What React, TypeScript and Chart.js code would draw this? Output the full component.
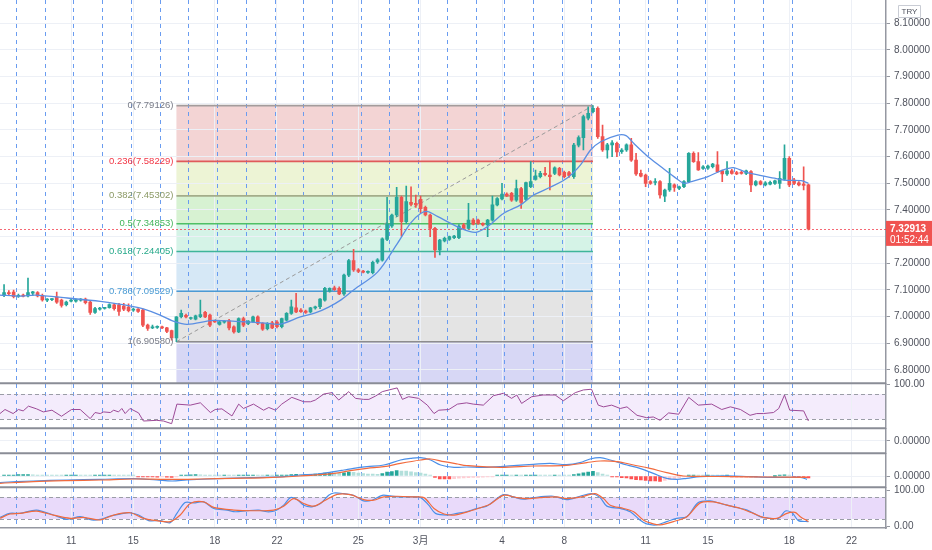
import { useEffect, useRef } from "react";
import { Chart, registerables } from "chart.js";

Chart.register(...registerables);

// ---------- price candles (4h bars, index 0..168) ----------
const opens = [
  7.080, 7.090, 7.092, 7.076, 7.080, 7.078, 7.088, 7.090, 7.080, 7.062,
  7.064, 7.073, 7.062, 7.045, 7.058, 7.058, 7.062, 7.066, 7.055, 7.016,
  7.028, 7.031, 7.034, 7.044, 7.044, 7.040, 7.036, 7.024, 7.028, 7.025,
  6.968, 6.958, 6.960, 6.962, 6.958, 6.948, 6.920, 7.000, 7.005, 6.993,
  6.991, 7.000, 7.016, 7.006, 6.983, 6.971, 6.979, 6.984, 6.962, 6.943,
  6.993, 6.975, 6.981, 6.999, 6.975, 6.955, 6.977, 6.980, 6.962, 6.987,
  7.012, 7.033, 7.025, 7.021, 7.018, 7.033, 7.037, 7.062, 7.096, 7.108,
  7.106, 7.085, 7.156, 7.210, 7.176, 7.170, 7.166, 7.165, 7.205, 7.212,
  7.290, 7.340, 7.381, 7.447, 7.356, 7.429, 7.425, 7.440, 7.410, 7.381,
  7.331, 7.250, 7.284, 7.290, 7.296, 7.296, 7.344, 7.331, 7.362, 7.362,
  7.350, 7.344, 7.362, 7.419, 7.441, 7.460, 7.462, 7.437, 7.480, 7.440,
  7.487, 7.515, 7.525, 7.537, 7.531, 7.537, 7.556, 7.541, 7.540, 7.525,
  7.643, 7.671, 7.744, 7.769, 7.781, 7.675, 7.625, 7.644, 7.650, 7.619,
  7.625, 7.644, 7.587, 7.537, 7.531, 7.506, 7.503, 7.506, 7.452, 7.475,
  7.494, 7.481, 7.487, 7.506, 7.612, 7.581, 7.556, 7.557, 7.562, 7.569,
  7.547, 7.535, 7.547, 7.540, 7.541, 7.537, 7.544, 7.494, 7.506, 7.494,
  7.497, 7.500, 7.500, 7.515, 7.594, 7.512, 7.502, 7.497, 7.494,
];
const highs = [
  7.120, 7.098, 7.100, 7.085, 7.085, 7.145, 7.095, 7.094, 7.085, 7.068,
  7.068, 7.092, 7.066, 7.058, 7.065, 7.066, 7.068, 7.070, 7.058, 7.035,
  7.035, 7.035, 7.048, 7.050, 7.050, 7.050, 7.048, 7.032, 7.030, 7.028,
  6.972, 6.968, 6.966, 6.965, 6.960, 6.950, 7.000, 7.025, 7.010, 6.998,
  7.006, 7.062, 7.020, 7.010, 6.986, 6.985, 6.985, 6.990, 6.966, 6.996,
  6.998, 6.985, 7.002, 7.003, 6.978, 6.978, 6.982, 6.985, 6.995, 7.015,
  7.062, 7.087, 7.030, 7.025, 7.035, 7.040, 7.068, 7.110, 7.108, 7.115,
  7.112, 7.160, 7.215, 7.252, 7.180, 7.174, 7.172, 7.208, 7.218, 7.296,
  7.447, 7.385, 7.485, 7.452, 7.490, 7.487, 7.456, 7.452, 7.415, 7.385,
  7.335, 7.290, 7.298, 7.302, 7.305, 7.345, 7.350, 7.425, 7.368, 7.366,
  7.352, 7.365, 7.452, 7.446, 7.500, 7.464, 7.466, 7.512, 7.485, 7.505,
  7.581, 7.550, 7.545, 7.560, 7.583, 7.562, 7.560, 7.546, 7.545, 7.650,
  7.678, 7.756, 7.787, 7.791, 7.787, 7.718, 7.650, 7.660, 7.655, 7.630,
  7.648, 7.669, 7.612, 7.550, 7.535, 7.510, 7.518, 7.510, 7.478, 7.556,
  7.498, 7.490, 7.510, 7.615, 7.618, 7.615, 7.566, 7.568, 7.575, 7.619,
  7.550, 7.581, 7.552, 7.545, 7.545, 7.550, 7.548, 7.510, 7.510, 7.506,
  7.508, 7.512, 7.544, 7.644, 7.600, 7.519, 7.506, 7.562, 7.497,
];
const lows = [
  7.075, 7.082, 7.070, 7.072, 7.074, 7.074, 7.080, 7.074, 7.058, 7.056,
  7.060, 7.050, 7.036, 7.040, 7.055, 7.054, 7.058, 7.048, 7.008, 7.012,
  7.024, 7.028, 7.032, 7.024, 7.005, 7.022, 7.018, 7.020, 7.016, 6.962,
  6.948, 6.955, 6.956, 6.955, 6.940, 6.912, 6.906, 6.995, 6.995, 6.990,
  6.988, 6.996, 6.996, 6.962, 6.978, 6.968, 6.976, 6.950, 6.938, 6.940,
  6.962, 6.970, 6.978, 6.970, 6.948, 6.950, 6.955, 6.958, 6.958, 6.984,
  7.008, 7.015, 7.016, 7.012, 7.014, 7.028, 7.030, 7.058, 7.092, 7.098,
  7.082, 7.080, 7.150, 7.170, 7.165, 7.164, 7.162, 7.160, 7.200, 7.208,
  7.285, 7.335, 7.375, 7.302, 7.350, 7.415, 7.410, 7.390, 7.378, 7.300,
  7.222, 7.231, 7.280, 7.286, 7.292, 7.292, 7.328, 7.328, 7.344, 7.346,
  7.340, 7.300, 7.358, 7.415, 7.438, 7.450, 7.432, 7.432, 7.406, 7.436,
  7.484, 7.512, 7.520, 7.528, 7.475, 7.532, 7.528, 7.520, 7.522, 7.518,
  7.636, 7.625, 7.738, 7.764, 7.668, 7.620, 7.594, 7.600, 7.600, 7.612,
  7.620, 7.582, 7.530, 7.524, 7.487, 7.496, 7.494, 7.444, 7.431, 7.470,
  7.470, 7.476, 7.484, 7.502, 7.578, 7.548, 7.552, 7.552, 7.558, 7.540,
  7.506, 7.530, 7.534, 7.532, 7.534, 7.532, 7.469, 7.490, 7.494, 7.490,
  7.494, 7.496, 7.481, 7.512, 7.487, 7.495, 7.490, 7.475, 7.325,
];
const closes = [
  7.090, 7.086, 7.075, 7.080, 7.077, 7.090, 7.093, 7.078, 7.063, 7.066,
  7.066, 7.054, 7.042, 7.055, 7.062, 7.064, 7.066, 7.052, 7.016, 7.030,
  7.032, 7.034, 7.045, 7.030, 7.020, 7.028, 7.022, 7.028, 7.020, 6.968,
  6.956, 6.962, 6.963, 6.958, 6.945, 6.920, 6.999, 7.012, 6.999, 6.996,
  7.003, 7.008, 6.999, 6.968, 6.980, 6.981, 6.982, 6.958, 6.943, 6.993,
  6.968, 6.983, 6.999, 6.975, 6.953, 6.975, 6.958, 6.962, 6.993, 7.012,
  7.037, 7.018, 7.019, 7.016, 7.033, 7.037, 7.066, 7.106, 7.106, 7.101,
  7.085, 7.156, 7.210, 7.175, 7.170, 7.167, 7.170, 7.204, 7.213, 7.292,
  7.347, 7.381, 7.447, 7.356, 7.431, 7.421, 7.419, 7.405, 7.381, 7.331,
  7.250, 7.287, 7.294, 7.300, 7.302, 7.340, 7.331, 7.362, 7.347, 7.350,
  7.344, 7.362, 7.419, 7.443, 7.460, 7.453, 7.437, 7.480, 7.428, 7.503,
  7.506, 7.528, 7.537, 7.532, 7.525, 7.558, 7.531, 7.525, 7.530, 7.643,
  7.671, 7.750, 7.762, 7.781, 7.675, 7.625, 7.644, 7.652, 7.618, 7.625,
  7.644, 7.587, 7.535, 7.527, 7.500, 7.500, 7.506, 7.456, 7.475, 7.500,
  7.485, 7.487, 7.506, 7.612, 7.581, 7.550, 7.562, 7.565, 7.572, 7.544,
  7.535, 7.547, 7.537, 7.535, 7.537, 7.547, 7.494, 7.506, 7.497, 7.502,
  7.504, 7.509, 7.519, 7.594, 7.494, 7.500, 7.494, 7.492, 7.32913,
];

// ---------- moving average (read points: bar position, price) ----------
const maX = [-0.85, 3.3, 6.5, 13.2, 20.1, 27.0, 29.1, 32.6, 35.8, 38.3, 43.7, 48.3, 54.6, 57.7, 61.9, 65.0, 67.8, 70.3, 73.0, 78.0, 82.2, 84.9, 87.0, 88.5, 90.5, 95.4, 98.5, 101.0, 104.3, 107.9, 110.6, 114.2, 117.7, 120.4, 122.5, 124.6, 128.2, 129.9, 131.5, 134.5, 137.2, 139.9, 142.0, 143.5, 147.0, 149.7, 152.3, 154.6, 156.7, 160.9, 162.9, 166.5, 168.0];
const maY = [7.081, 7.077, 7.081, 7.070, 7.057, 7.038, 7.029, 7.006, 6.980, 6.971, 6.986, 6.982, 6.976, 6.972, 6.999, 7.014, 7.036, 7.062, 7.100, 7.167, 7.276, 7.351, 7.387, 7.394, 7.376, 7.331, 7.316, 7.338, 7.387, 7.419, 7.456, 7.486, 7.521, 7.569, 7.625, 7.656, 7.681, 7.679, 7.650, 7.600, 7.562, 7.525, 7.500, 7.506, 7.525, 7.547, 7.559, 7.544, 7.534, 7.519, 7.512, 7.510, 7.500];

// ---------- RSI ----------
const rsiX = [-0.85, 0.2, 1.9, 3.0, 4.0, 5.1, 6.8, 8.2, 10.0, 12.0, 14.1, 15.9, 18.0, 19.0, 20.1, 20.8, 22.2, 22.9, 23.9, 24.6, 25.3, 26.3, 28.1, 29.1, 31.9, 33.3, 35.0, 36.1, 38.9, 41.0, 43.1, 44.1, 45.5, 47.6, 49.0, 50.0, 52.1, 54.2, 55.3, 56.7, 58.0, 60.1, 62.6, 64.0, 65.0, 66.8, 68.5, 69.9, 72.0, 73.4, 75.1, 76.2, 77.6, 79.0, 80.4, 82.1, 83.2, 84.5, 86.6, 88.4, 89.8, 90.8, 92.9, 94.7, 96.6, 98.0, 100.1, 102.2, 104.3, 106.0, 107.1, 108.1, 110.2, 112.6, 115.1, 116.8, 119.3, 121.0, 122.7, 124.1, 125.2, 126.9, 128.7, 130.1, 132.2, 134.2, 135.6, 137.0, 138.8, 140.9, 143.0, 145.0, 147.8, 149.9, 151.7, 153.8, 155.8, 157.2, 158.6, 160.7, 161.8, 163.0, 164.1, 167.0, 168.0];
const rsiY = [39.1, 45.5, 39.1, 45.5, 43.3, 50.8, 46.5, 41.7, 44.4, 34.8, 45.5, 45.5, 31.1, 40.7, 39.1, 41.7, 40.7, 44.4, 41.7, 47.1, 39.1, 47.1, 40.1, 27.3, 28.4, 27.3, 23.1, 54.0, 52.4, 56.1, 40.7, 45.5, 46.5, 35.3, 54.0, 47.1, 54.0, 44.4, 48.7, 44.4, 54.0, 64.7, 57.7, 57.7, 60.4, 70.0, 72.1, 60.4, 73.7, 63.1, 61.5, 61.5, 66.8, 73.7, 76.4, 79.6, 61.5, 65.7, 63.1, 52.4, 39.1, 44.4, 45.5, 54.0, 56.0, 54.0, 52.4, 67.3, 71.1, 63.1, 68.4, 55.1, 65.7, 68.4, 68.4, 59.3, 72.1, 76.4, 77.5, 52.4, 49.7, 52.4, 47.1, 49.7, 36.3, 32.6, 33.7, 28.4, 40.1, 38.0, 64.7, 52.4, 54.0, 45.5, 49.7, 45.5, 36.3, 39.1, 39.1, 40.7, 47.1, 68.4, 44.4, 43.3, 27.3];
const rsiBand = [70, 30];

// ---------- MACD ----------
const macdX = [-0.85, 6.1, 13.1, 20.1, 27.0, 31.9, 35.1, 38.2, 44.5, 51.4, 58.4, 61.9, 65.4, 68.9, 71.0, 73.0, 75.8, 79.3, 82.8, 84.9, 87.0, 89.1, 91.2, 94.0, 96.6, 100.1, 103.6, 107.1, 110.5, 114.0, 117.5, 120.3, 122.4, 124.5, 126.6, 130.1, 132.8, 135.6, 138.4, 140.5, 142.6, 145.4, 152.4, 159.3, 163.5, 166.3, 167.7];
const macdY = [-0.0130, -0.0100, -0.0080, -0.0067, -0.0053, -0.0080, -0.0100, -0.0080, -0.0053, -0.0033, -0.0013, 0.0020, 0.0040, 0.0087, 0.0120, 0.0153, 0.0187, 0.0220, 0.0320, 0.0353, 0.0367, 0.0320, 0.0220, 0.0173, 0.0180, 0.0173, 0.0187, 0.0213, 0.0233, 0.0253, 0.0227, 0.0267, 0.0340, 0.0367, 0.0320, 0.0220, 0.0153, 0.0053, -0.0047, -0.0067, -0.0047, -0.0013, 0.0000, -0.0027, -0.0027, -0.0027, -0.0067];
const signalX = [-0.85, 6.1, 13.1, 20.1, 27.0, 34.0, 41.0, 48.0, 54.9, 61.9, 68.9, 72.3, 75.8, 79.3, 82.8, 87.0, 89.1, 91.9, 94.7, 96.6, 103.6, 110.5, 117.5, 121.7, 124.5, 128.0, 131.5, 134.9, 138.4, 141.9, 145.4, 152.4, 159.3, 167.7];
const signalY = [-0.0147, -0.0113, -0.0093, -0.0080, -0.0060, -0.0067, -0.0060, -0.0047, -0.0033, 0.0000, 0.0053, 0.0107, 0.0153, 0.0187, 0.0253, 0.0320, 0.0340, 0.0287, 0.0240, 0.0210, 0.0173, 0.0200, 0.0213, 0.0267, 0.0300, 0.0287, 0.0220, 0.0153, 0.0067, 0.0000, -0.0007, -0.0013, -0.0020, -0.0027];
const macdHist = [
  0.0020, 0.0020, 0.0020, 0.0030, 0.0030, 0.0030, 0.0024, 0.0020, 0.0016, 0.0012,
  0.0010, 0.0008, 0.0006, 0.0006, 0.0010, 0.0012, 0.0010, 0.0008, 0.0004, 0.0006,
  0.0008, 0.0010, 0.0012, 0.0010, 0.0008, 0.0006, 0.0004, 0.0002, -0.0006, -0.0016,
  -0.0020, -0.0020, -0.0022, -0.0020, -0.0022, -0.0026, -0.0010, 0.0006, 0.0016, 0.0024,
  0.0026, 0.0024, 0.0020, 0.0016, 0.0012, 0.0010, 0.0012, 0.0008, 0.0006, 0.0010,
  0.0010, 0.0012, 0.0014, 0.0010, 0.0006, 0.0008, 0.0006, 0.0006, 0.0012, 0.0020,
  0.0030, 0.0032, 0.0030, 0.0030, 0.0032, 0.0036, 0.0046, 0.0060, 0.0064, 0.0060,
  0.0056, 0.0064, 0.0076, 0.0072, 0.0060, 0.0050, 0.0040, 0.0036, 0.0032, 0.0050,
  0.0076, 0.0090, 0.0110, 0.0100, 0.0096, 0.0084, 0.0070, 0.0056, 0.0036, 0.0004,
  -0.0030, -0.0056, -0.0060, -0.0060, -0.0052, -0.0044, -0.0040, -0.0032, -0.0028, -0.0026,
  -0.0024, -0.0020, -0.0008, 0.0004, 0.0012, 0.0014, 0.0012, 0.0016, 0.0012, 0.0018,
  0.0020, 0.0020, 0.0018, 0.0016, 0.0014, 0.0016, 0.0014, 0.0010, 0.0008, 0.0030,
  0.0044, 0.0064, 0.0080, 0.0092, 0.0070, 0.0040, 0.0020, -0.0006, -0.0020, -0.0032,
  -0.0040, -0.0056, -0.0072, -0.0080, -0.0090, -0.0096, -0.0100, -0.0106, -0.0090, -0.0072,
  -0.0052, -0.0032, -0.0010, 0.0012, 0.0016, 0.0014, 0.0012, 0.0012, 0.0010, 0.0006,
  0.0004, 0.0004, -0.0004, -0.0006, -0.0006, -0.0006, -0.0010, -0.0010, -0.0008, -0.0006,
  -0.0004, 0.0000, 0.0008, 0.0024, 0.0010, -0.0010, -0.0016, -0.0020, -0.0040,
];

// ---------- Stochastic ----------
const stochKX = [-0.85, 1.2, 3.3, 6.8, 10.3, 13.1, 15.9, 18.3, 20.1, 22.2, 24.2, 26.3, 28.1, 30.2, 32.6, 34.7, 36.1, 37.8, 39.6, 41.7, 43.8, 46.6, 48.3, 50.7, 53.2, 54.9, 56.7, 58.4, 59.8, 61.2, 62.6, 64.3, 66.1, 67.8, 68.9, 71.0, 73.0, 75.1, 76.9, 79.0, 80.7, 82.8, 85.2, 87.0, 88.7, 90.1, 92.6, 94.6, 96.6, 98.7, 100.8, 104.3, 106.4, 108.4, 110.5, 114.7, 117.5, 120.3, 122.7, 124.5, 125.9, 128.7, 130.8, 132.8, 134.2, 136.3, 138.4, 140.5, 142.6, 145.0, 147.5, 149.6, 152.4, 155.2, 157.9, 160.0, 161.8, 163.2, 164.6, 165.9, 168.0];
const stochKY = [24.6, 35.5, 35.5, 44.6, 30.9, 19.1, 26.4, 17.3, 19.1, 28.2, 33.7, 37.3, 30.9, 15.5, 15.5, 10.0, 35.5, 65.5, 64.6, 67.3, 49.1, 44.6, 40.0, 42.8, 44.6, 40.0, 42.8, 58.2, 79.1, 73.7, 58.2, 53.7, 62.8, 85.5, 91.9, 90.0, 85.5, 70.0, 71.9, 85.5, 83.7, 81.0, 81.0, 79.1, 58.2, 35.5, 30.9, 35.5, 40.0, 49.1, 55.5, 87.3, 81.0, 74.6, 79.1, 82.8, 73.7, 82.8, 90.0, 79.1, 55.5, 49.1, 40.0, 17.3, 6.4, 3.7, 12.8, 21.9, 26.4, 65.5, 70.0, 62.8, 53.7, 44.6, 26.4, 21.9, 21.9, 41.9, 37.3, 15.5, 12.8];
const stochDX = [-0.85, 1.2, 3.3, 6.8, 10.3, 13.8, 16.6, 20.1, 22.9, 26.3, 29.1, 31.9, 34.7, 36.8, 38.9, 41.7, 43.8, 48.0, 52.1, 56.3, 58.4, 60.5, 62.6, 64.7, 67.1, 69.6, 72.3, 75.1, 77.2, 79.3, 82.1, 85.6, 87.7, 89.8, 91.9, 94.0, 96.6, 99.4, 101.5, 104.3, 107.1, 109.1, 111.9, 115.4, 117.5, 120.6, 123.4, 125.2, 126.6, 129.4, 131.5, 133.5, 135.6, 137.0, 139.8, 142.6, 145.4, 148.2, 151.0, 153.8, 156.5, 158.6, 161.4, 163.5, 165.2, 166.3, 168.0];
const stochDY = [21.9, 33.7, 35.5, 41.9, 30.9, 21.9, 24.6, 17.3, 30.9, 37.3, 21.9, 15.5, 12.8, 30.9, 62.8, 67.3, 51.9, 44.6, 42.8, 44.6, 55.5, 76.4, 62.8, 55.5, 71.9, 88.2, 87.3, 73.7, 71.9, 81.0, 82.8, 81.0, 79.1, 49.1, 33.7, 30.9, 39.0, 50.9, 60.9, 85.5, 79.1, 76.4, 79.1, 81.0, 76.4, 81.0, 90.0, 76.4, 58.2, 49.1, 40.0, 17.3, 6.4, 3.7, 12.8, 26.4, 64.6, 67.3, 58.2, 49.1, 35.5, 24.6, 21.9, 35.5, 38.2, 26.4, 12.8];
const stochBand = [80, 20];

// ---------- axes ----------
const xTickPos = [14, 27, 44, 57, 74, 87, 104, 117, 134, 147, 164, 177];
const xTickLabels = ["11", "15", "18", "22", "25", "3月", "4", "8", "11", "15", "18", "22"];
const priceTicks = [6.8, 6.9, 7.0, 7.1, 7.2, 7.3, 7.4, 7.5, 7.6, 7.7, 7.8, 7.9, 8.0, 8.1];
const sessionDays = ["2/9", "2/10", "2/11", "2/12", "2/15", "2/16", "2/17", "2/18", "2/19", "2/22", "2/23", "2/24", "2/25", "2/26", "3/1", "3/2", "3/3", "3/4", "3/5", "3/8", "3/9", "3/10", "3/11", "3/12", "3/15", "3/16", "3/17", "3/18"];
const firstSessionBar = 3;
const barsPerSession = 6;

// ---------- Fibonacci retracement ----------
const fibLevels = ["0", "0.236", "0.382", "0.5", "0.618", "0.786", "1"];
const fibPrices = [7.79126, 7.58229, 7.45302, 7.34853, 7.24405, 7.09529, 6.9058];
const fibExtPrice = 6.35858;
const fibStartBar = 36;
const fibEndBar = 123;

const lastPrice = 7.32913;
const countdown = "01:52:44";
const currency = "TRY";

// ---------- styles ----------
const FONT = '"Liberation Sans", "Noto Sans CJK JP", sans-serif';
const TXT = "#50535e";
const UP = "#26a69a";
const DOWN = "#ef5350";
const fibLineColors = ["#a39c9c", "#e05a5a", "#a4ad8a", "#4fc065", "#3fb59a", "#4d9ad4", "#8d8d8d"];
const fibTextColors = ["#787b86", "#f23645", "#8c9a66", "#43b55a", "#26a98a", "#4a9bd3", "#787b86"];
const fibZoneColors = ["#f3d4d4", "#edf4d5", "#d7f2d2", "#d5f3e7", "#d6e8f6", "#e4e4e4", "#d7d7f5"];

const panelPlugin = {
  id: "tvPanels",
  beforeDraw(chart: any) {
    const { ctx, chartArea: ca, scales } = chart;
    const sx = scales.x, sy = scales.y;
    ctx.save();
    ctx.fillStyle = "#ffffff";
    ctx.fillRect(0, 0, chart.width, chart.height);
    ctx.save();
    ctx.beginPath();
    ctx.rect(ca.left, sy.top, ca.right - ca.left, sy.bottom - sy.top);
    ctx.clip();
    const xl = sx.getPixelForValue(fibStartBar);
    const xr = sx.getPixelForValue(fibEndBar);
    const bounds = [...fibPrices, fibExtPrice];
    for (let i = 0; i < fibZoneColors.length; i++) {
      const y1 = sy.getPixelForValue(bounds[i]);
      const y2 = sy.getPixelForValue(bounds[i + 1]);
      ctx.fillStyle = fibZoneColors[i];
      ctx.fillRect(xl, y1, xr - xl, y2 - y1);
    }
    ctx.restore();
    const band = (s: any, hi: number, lo: number, color: string) => {
      const a = s.getPixelForValue(hi), b = s.getPixelForValue(lo);
      ctx.fillStyle = color;
      ctx.fillRect(ca.left, a, ca.right - ca.left, b - a);
    };
    band(scales.yRsi, rsiBand[0], rsiBand[1], "#f4ecfc");
    band(scales.yStoch, stochBand[0], stochBand[1], "#e9dafa");
    ctx.restore();
  },
  beforeDatasetsDraw(chart: any) {
    const { ctx, chartArea: ca, scales } = chart;
    const sx = scales.x, sy = scales.y;
    ctx.save();
    // session breaks
    ctx.strokeStyle = "#6a9cf0";
    ctx.lineWidth = 1;
    ctx.setLineDash([4, 4]);
    ctx.beginPath();
    sessionDays.forEach((_, i) => {
      const px = Math.round(sx.getPixelForValue(firstSessionBar - 0.5 + i * barsPerSession)) + 0.5;
      ctx.moveTo(px, ca.top);
      ctx.lineTo(px, ca.bottom);
    });
    ctx.stroke();
    // band borders
    ctx.strokeStyle = "#9a9da6";
    ctx.setLineDash([4, 3]);
    ctx.beginPath();
    const hline = (s: any, v: number) => {
      const py = Math.round(s.getPixelForValue(v)) + 0.5;
      ctx.moveTo(ca.left, py);
      ctx.lineTo(ca.right, py);
    };
    hline(scales.yRsi, rsiBand[0]);
    hline(scales.yRsi, rsiBand[1]);
    hline(scales.yStoch, stochBand[0]);
    hline(scales.yStoch, stochBand[1]);
    ctx.stroke();
    // fib levels
    const xl = sx.getPixelForValue(fibStartBar);
    const xr = sx.getPixelForValue(fibEndBar);
    ctx.setLineDash([]);
    ctx.lineWidth = 1.6;
    fibPrices.forEach((p, i) => {
      const py = sy.getPixelForValue(p);
      ctx.strokeStyle = fibLineColors[i];
      ctx.beginPath();
      ctx.moveTo(xl, py);
      ctx.lineTo(xr, py);
      ctx.stroke();
    });
    // trend line
    ctx.strokeStyle = "#9a9a9a";
    ctx.lineWidth = 1;
    ctx.setLineDash([4, 3]);
    ctx.beginPath();
    ctx.moveTo(xl, sy.getPixelForValue(fibPrices[fibPrices.length - 1]));
    ctx.lineTo(xr, sy.getPixelForValue(fibPrices[0]));
    ctx.stroke();
    // last price line
    ctx.strokeStyle = "rgba(242,54,69,0.75)";
    ctx.setLineDash([2, 2]);
    ctx.beginPath();
    const lp = Math.round(sy.getPixelForValue(lastPrice)) + 0.5;
    ctx.moveTo(ca.left, lp);
    ctx.lineTo(ca.right, lp);
    ctx.stroke();
    // panel separators
    ctx.setLineDash([]);
    ctx.strokeStyle = "#8a8d96";
    ctx.lineWidth = 2;
    ctx.beginPath();
    [scales.y, scales.yRsi, scales.yEmpty, scales.yMacd].forEach((s: any) => {
      ctx.moveTo(ca.left, s.bottom);
      ctx.lineTo(ca.right, s.bottom);
    });
    ctx.stroke();
    ctx.restore();
  },
  afterDraw(chart: any) {
    const { ctx, chartArea: ca, scales } = chart;
    const sx = scales.x, sy = scales.y;
    ctx.save();
    // fib labels
    const xl = sx.getPixelForValue(fibStartBar);
    ctx.font = `9.5px ${FONT}`;
    ctx.textAlign = "right";
    ctx.textBaseline = "middle";
    fibPrices.forEach((p, i) => {
      ctx.fillStyle = fibTextColors[i];
      ctx.fillText(`${fibLevels[i]}(${p.toFixed(5)})`, xl - 3, sy.getPixelForValue(p));
    });
    // last price box
    const py = sy.getPixelForValue(lastPrice);
    ctx.fillStyle = "#f05350";
    ctx.fillRect(ca.right, py - 8, chart.width - ca.right, 25);
    ctx.fillStyle = "#ffffff";
    ctx.textAlign = "left";
    ctx.font = `bold 10px ${FONT}`;
    ctx.fillText(lastPrice.toFixed(5), ca.right + 4, py + 0.5);
    ctx.font = `10px ${FONT}`;
    ctx.fillText(countdown, ca.right + 4, py + 11.5);
    // currency box
    ctx.fillStyle = "#ffffff";
    ctx.strokeStyle = "#c9ccd4";
    ctx.lineWidth = 1;
    ctx.beginPath();
    ctx.rect(898.5, 5.5, 22, 12);
    ctx.fill();
    ctx.stroke();
    ctx.fillStyle = TXT;
    ctx.font = `8px ${FONT}`;
    ctx.textAlign = "center";
    ctx.fillText(currency, 909.5, 11.8);
    ctx.restore();
  },
};

const tickFont = { family: FONT, size: 10 };
const noPad = (s: any) => {
  s.paddingTop = 0;
  s.paddingBottom = 0;
  s.paddingLeft = 0;
  s.paddingRight = 0;
};
const yAxisBase = (weight: number, min: number, max: number) => ({
  type: "linear" as const,
  position: "right" as const,
  stack: "panels",
  stackWeight: weight,
  min,
  max,
  border: { color: "#9598a1", width: 1.5 },
  afterFit: (s: any) => {
    s.width = 46;
    noPad(s);
  },
});

export default function App() {
  const ref = useRef<HTMLCanvasElement | null>(null);

  useEffect(() => {
    if (!ref.current) return;
    const idx = opens.map((_, i) => i);
    const isUp = (i: number) => closes[i] >= opens[i];
    const histColor = (i: number) => {
      const v = macdHist[i];
      const prev = i > 0 ? macdHist[i - 1] : v;
      if (v >= 0) return v >= prev ? "#26a69a" : "#b2dfdb";
      return v <= prev ? "#ff5252" : "#ffcdd2";
    };
    const pts = (xs: number[], ys: number[]) => xs.map((x, i) => ({ x, y: ys[i] }));

    const chart = new Chart(ref.current, {
      type: "bar",
      data: {
        datasets: [
          {
            type: "line",
            data: pts(maX, maY),
            yAxisID: "y",
            borderColor: "#5b8fe3",
            borderWidth: 1.3,
            pointRadius: 0,
            tension: 0.3,
            order: 0,
          },
          {
            type: "line",
            data: pts(rsiX, rsiY),
            yAxisID: "yRsi",
            borderColor: "#9c4a97",
            borderWidth: 1,
            pointRadius: 0,
            tension: 0,
            order: 0,
          },
          {
            type: "line",
            data: pts(signalX, signalY),
            yAxisID: "yMacd",
            borderColor: "#f26a3d",
            borderWidth: 1.2,
            pointRadius: 0,
            tension: 0.35,
            order: 0,
          },
          {
            type: "line",
            data: pts(macdX, macdY),
            yAxisID: "yMacd",
            borderColor: "#4a8fe8",
            borderWidth: 1.2,
            pointRadius: 0,
            tension: 0.35,
            order: 0,
          },
          {
            type: "line",
            data: pts(stochDX, stochDY),
            yAxisID: "yStoch",
            borderColor: "#f26a3d",
            borderWidth: 1.2,
            pointRadius: 0,
            tension: 0.3,
            order: 0,
          },
          {
            type: "line",
            data: pts(stochKX, stochKY),
            yAxisID: "yStoch",
            borderColor: "#4a8fe8",
            borderWidth: 1.2,
            pointRadius: 0,
            tension: 0.3,
            order: 0,
          },
          {
            type: "bar",
            data: idx.map((i) => ({ x: i, y: [opens[i], closes[i]] })) as any,
            yAxisID: "y",
            backgroundColor: idx.map((i) => (isUp(i) ? UP : DOWN)),
            barThickness: 3,
            minBarLength: 1,
            grouped: false,
            borderWidth: 0,
            order: 2,
          },
          {
            type: "bar",
            data: idx.map((i) => ({ x: i, y: [lows[i], highs[i]] })) as any,
            yAxisID: "y",
            backgroundColor: idx.map((i) => (isUp(i) ? UP : DOWN)),
            barThickness: 1,
            grouped: false,
            borderWidth: 0,
            order: 3,
          },
          {
            type: "bar",
            data: idx.map((i) => ({ x: i, y: macdHist[i] })) as any,
            yAxisID: "yMacd",
            backgroundColor: idx.map((i) => histColor(i)),
            barThickness: 3,
            minBarLength: 1,
            grouped: false,
            borderWidth: 0,
            order: 2,
          },
        ] as any,
      },
      options: {
        animation: false,
        responsive: true,
        maintainAspectRatio: false,
        events: [],
        layout: { padding: 0 },
        plugins: { legend: { display: false }, tooltip: { enabled: false } },
        scales: {
          x: {
            type: "linear",
            min: -0.846,
            max: 184.2,
            offset: false,
            grid: { color: "#edf0f6", drawTicks: false, offset: false },
            border: { color: "#9598a1", width: 1.5 },
            ticks: {
              autoSkip: false,
              maxRotation: 0,
              padding: 7,
              color: TXT,
              font: tickFont,
              callback: (_v: any, i: number) => xTickLabels[i] ?? "",
            },
            afterBuildTicks: (s: any) => {
              s.ticks = xTickPos.map((v) => ({ value: v }));
            },
            afterFit: (s: any) => {
              s.height = 22;
              noPad(s);
            },
          },
          y: {
            ...yAxisBase(383.3, 6.7501, 8.1873),
            grid: { color: "#edf0f6", tickColor: "#9598a1", tickLength: 4 },
            ticks: { padding: 4, color: TXT, font: tickFont, callback: (v: any) => Number(v).toFixed(5) },
            afterBuildTicks: (s: any) => {
              s.ticks = priceTicks.map((v) => ({ value: v }));
            },
          },
          yRsi: {
            ...yAxisBase(45, 15.8, 86.9),
            grid: { color: "rgba(0,0,0,0)", tickColor: "#9598a1", tickLength: 4 },
            ticks: { padding: 4, color: TXT, font: tickFont, callback: () => "100.00" },
            afterBuildTicks: (s: any) => {
              s.ticks = [{ value: 85.5 }];
            },
          },
          yEmpty: {
            ...yAxisBase(25, -1, 1),
            grid: { color: "#edf0f6", tickColor: "#9598a1", tickLength: 4 },
            ticks: { padding: 4, color: TXT, font: tickFont, callback: () => "0.00000" },
            afterBuildTicks: (s: any) => {
              s.ticks = [{ value: 0 }];
            },
          },
          yMacd: {
            ...yAxisBase(34, -0.0226, 0.0454),
            grid: { color: "#edf0f6", tickColor: "#9598a1", tickLength: 4 },
            ticks: { padding: 4, color: TXT, font: tickFont, callback: (v: any) => Number(v).toFixed(5) },
            afterBuildTicks: (s: any) => {
              s.ticks = [{ value: 0 }];
            },
          },
          yStoch: {
            ...yAxisBase(40.7, -4.9, 107.6),
            grid: { color: "rgba(0,0,0,0)", tickColor: "#9598a1", tickLength: 4 },
            ticks: { padding: 4, color: TXT, font: tickFont, callback: (v: any) => Number(v).toFixed(2) },
            afterBuildTicks: (s: any) => {
              s.ticks = [{ value: 100 }, { value: 0 }];
            },
          },
        } as any,
      },
      plugins: [panelPlugin],
    });
    return () => chart.destroy();
  }, []);

  return (
    <div style={{ position: "absolute", left: 0, top: 0, width: 932, height: 550, background: "#fff" }}>
      <canvas ref={ref} />
    </div>
  );
}
